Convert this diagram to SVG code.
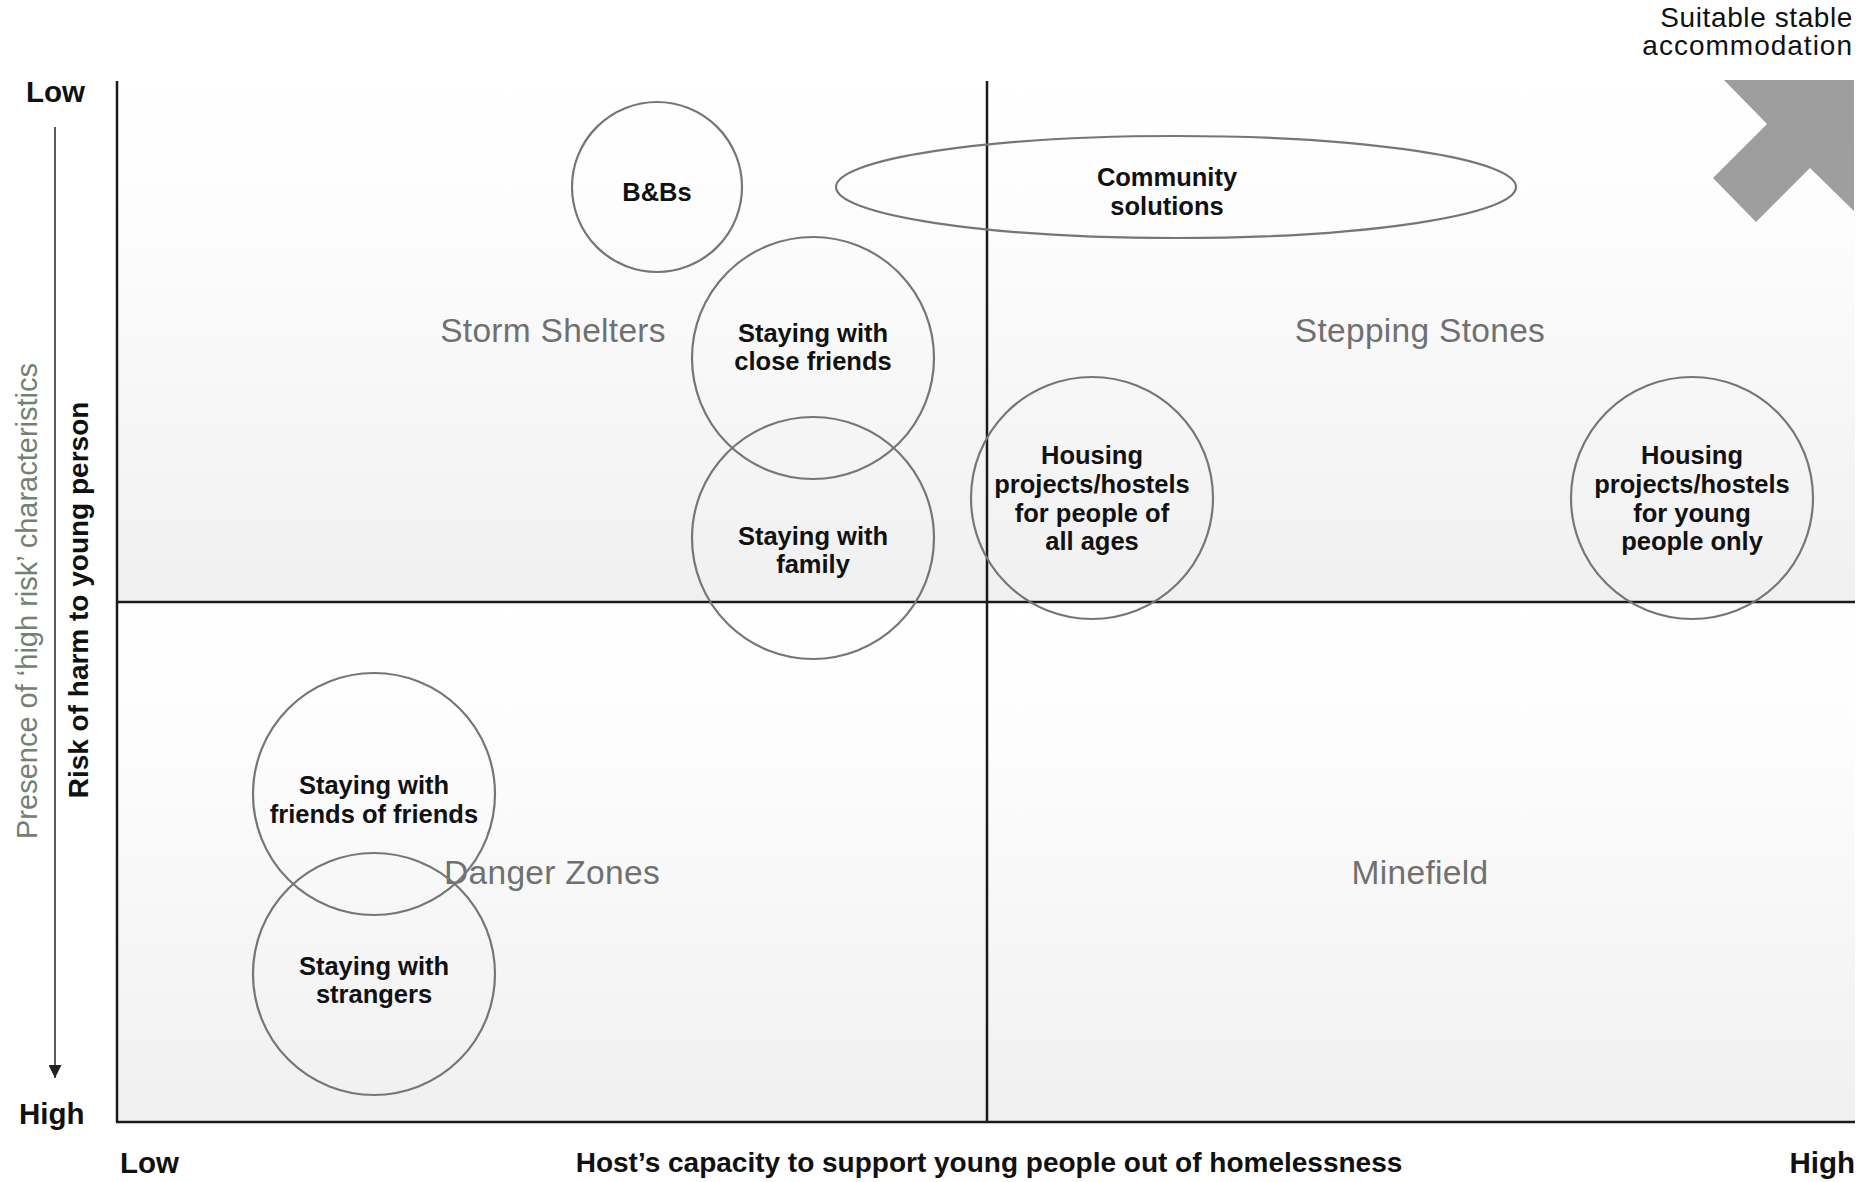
<svg xmlns="http://www.w3.org/2000/svg" width="1863" height="1182" viewBox="0 0 1863 1182">
  <defs>
    <linearGradient id="bg" x1="0" y1="0" x2="0" y2="1">
      <stop offset="0" stop-color="#ffffff"/>
      <stop offset="0.25" stop-color="#fdfdfd"/>
      <stop offset="1" stop-color="#f0f0f0"/>
    </linearGradient>
    <marker id="ah" viewBox="0 0 10 10" refX="10" refY="5" markerWidth="13" markerHeight="13" markerUnits="userSpaceOnUse" orient="auto">
      <path d="M0,0 L10,5 L0,10 Z" fill="#222"/>
    </marker>
    <style>
      .node { fill: none; stroke: #767676; stroke-width: 2.2; }
      .lbl { font-family: "Liberation Sans", Arial, sans-serif; font-weight: bold; font-size: 25.5px; fill: #111; text-anchor: middle; }
      .quad { font-family: "Liberation Sans", Arial, sans-serif; font-size: 33.5px; letter-spacing: 0.3px; fill: #707070; text-anchor: middle; }
      .axis { stroke: #1a1a1a; stroke-width: 2.5; fill: none; }
      .end { font-family: "Liberation Sans", Arial, sans-serif; font-weight: bold; font-size: 29.5px; fill: #111; }
    </style>
  </defs>

  <g id="background">
    <rect x="117" y="81" width="1738" height="521" fill="url(#bg)"/>
    <rect x="117" y="602" width="1738" height="520" fill="url(#bg)"/>
  </g>

  <g id="quadrant-labels">
    <text class="quad" x="553" y="342">Storm Shelters</text>
    <text class="quad" x="1420" y="342">Stepping Stones</text>
    <text class="quad" x="552" y="884">Danger Zones</text>
    <text class="quad" x="1420" y="884">Minefield</text>
  </g>

  <g id="connectors">
    <line class="axis" x1="117" y1="81" x2="117" y2="1122"/>
    <line class="axis" x1="116" y1="1122" x2="1855" y2="1122"/>
    <line class="axis" x1="987" y1="81" x2="987" y2="1122"/>
    <line class="axis" x1="117" y1="602" x2="1855" y2="602"/>
    <line x1="55" y1="127" x2="55" y2="1078" stroke="#333" stroke-width="1.6" marker-end="url(#ah)"/>
  </g>

  <g id="arrow-stable">
    <polygon points="1724,80 1854,80 1854,211 1810,168 1756,222 1713,178 1767,124" fill="#9e9e9e"/>
    <text x="1853" y="27" font-family="Liberation Sans, Arial, sans-serif" font-size="28" letter-spacing="0.6" fill="#111" text-anchor="end">Suitable stable</text>
    <text x="1853" y="55" font-family="Liberation Sans, Arial, sans-serif" font-size="28" letter-spacing="1" fill="#111" text-anchor="end">accommodation</text>
  </g>

  <g id="y-axis-labels">
    <text class="end" x="26" y="102">Low</text>
    <text class="end" x="19" y="1124">High</text>
    <text transform="translate(37,601) rotate(-90)" font-family="Liberation Sans, Arial, sans-serif" font-size="29" fill="#738073" text-anchor="middle">Presence of ‘high risk’ characteristics</text>
    <text transform="translate(88,600) rotate(-90)" font-family="Liberation Sans, Arial, sans-serif" font-weight="bold" font-size="28" fill="#111" text-anchor="middle">Risk of harm to young person</text>
  </g>

  <g id="x-axis-labels">
    <text class="end" x="120" y="1173">Low</text>
    <text class="end" x="1855" y="1173" text-anchor="end" font-size="31">High</text>
    <text x="989" y="1172" font-family="Liberation Sans, Arial, sans-serif" font-weight="bold" font-size="28" fill="#111" text-anchor="middle">Host’s capacity to support young people out of homelessness</text>
  </g>

  <g id="node-bbs">
    <circle class="node" cx="657" cy="187" r="85"/>
    <text class="lbl" x="657" y="201">B&amp;Bs</text>
  </g>

  <g id="node-community">
    <ellipse class="node" cx="1176" cy="187" rx="340" ry="51"/>
    <text class="lbl" x="1167" y="186">Community</text>
    <text class="lbl" x="1167" y="215">solutions</text>
  </g>

  <g id="node-close-friends">
    <circle class="node" cx="813" cy="358" r="121"/>
    <text class="lbl" x="813" y="342">Staying with</text>
    <text class="lbl" x="813" y="370">close friends</text>
  </g>

  <g id="node-family">
    <circle class="node" cx="813" cy="538" r="121"/>
    <text class="lbl" x="813" y="545">Staying with</text>
    <text class="lbl" x="813" y="573">family</text>
  </g>

  <g id="node-housing-all">
    <circle class="node" cx="1092" cy="498" r="121"/>
    <text class="lbl" x="1092" y="464">Housing</text>
    <text class="lbl" x="1092" y="493">projects/hostels</text>
    <text class="lbl" x="1092" y="522">for people of</text>
    <text class="lbl" x="1092" y="550">all ages</text>
  </g>

  <g id="node-housing-young">
    <circle class="node" cx="1692" cy="498" r="121"/>
    <text class="lbl" x="1692" y="464">Housing</text>
    <text class="lbl" x="1692" y="493">projects/hostels</text>
    <text class="lbl" x="1692" y="522">for young</text>
    <text class="lbl" x="1692" y="550">people only</text>
  </g>

  <g id="node-friends-of-friends">
    <circle class="node" cx="374" cy="794" r="121"/>
    <text class="lbl" x="374" y="794">Staying with</text>
    <text class="lbl" x="374" y="823">friends of friends</text>
  </g>

  <g id="node-strangers">
    <circle class="node" cx="374" cy="974" r="121"/>
    <text class="lbl" x="374" y="975">Staying with</text>
    <text class="lbl" x="374" y="1003">strangers</text>
  </g>
</svg>
